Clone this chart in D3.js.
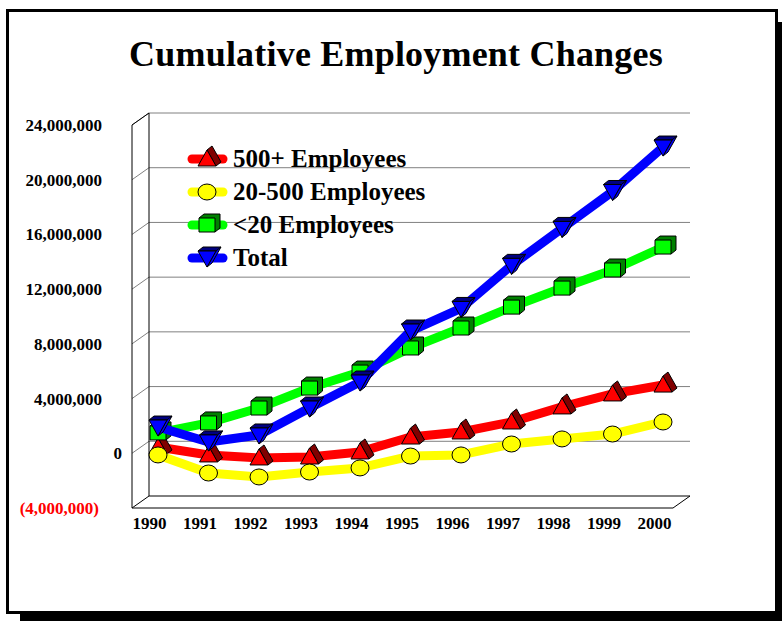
<!DOCTYPE html>
<html>
<head>
  <title>Cumulative Employment Changes</title>
  <script src="https://d3js.org/d3.v7.min.js"></script>
  <style>
    body { margin: 0; background: #fff; }
    text { font-family: "Liberation Serif", "Times New Roman", serif; font-weight: bold; }
  </style>
</head>
<body>
  <div id="chart"></div>

  <script>
    var years = ["1990", "1991", "1992", "1993", "1994", "1995", "1996", "1997", "1998", "1999", "2000"];
    var seriesNames = ["500+ Employees", "20-500 Employees", "<20 Employees", "Total"];
    var large = [20000, -560000, -780000, -710000, -340000, 750000, 1120000, 1850000, 2950000, 3900000, 4550000];
    var medium = [-560000, -1880000, -2170000, -1810000, -1510000, -640000, -560000, 240000, 610000, 970000, 1850000];
    var small = [1050000, 1780000, 2870000, 4330000, 5500000, 7260000, 8720000, 10250000, 11640000, 12960000, 14640000];
    var total = [1480000, 390000, 900000, 2870000, 4770000, 8500000, 10150000, 13300000, 16000000, 18700000, 21950000];
    var yTicks = [-4000000, 0, 4000000, 8000000, 12000000, 16000000, 20000000, 24000000];

    var series = [
      { name: seriesNames[0], values: large, color: "#ff0000", dark: "#800000", shape: "up" },
      { name: seriesNames[1], values: medium, color: "#ffff00", dark: "#808000", shape: "circle" },
      { name: seriesNames[2], values: small, color: "#00ff00", dark: "#008000", shape: "square" },
      { name: seriesNames[3], values: total, color: "#0000ff", dark: "#000080", shape: "down" }
    ];

    var width = 782, height = 621;
    var depthX = 17, depthY = -12; // 3d wall depth

    var svg = d3.select("#chart").append("svg")
      .attr("width", width)
      .attr("height", height);

    // frame with shadow
    svg.append("rect").attr("x", 20).attr("y", 22).attr("width", 763).attr("height", 599).attr("fill", "#000");
    svg.append("rect").attr("x", 7.5).attr("y", 10.5).attr("width", 769).attr("height", 602)
      .attr("fill", "#fff").attr("stroke", "#000").attr("stroke-width", 3);

    svg.append("text")
      .attr("x", 396).attr("y", 66)
      .attr("text-anchor", "middle")
      .style("font-size", "36px")
      .style("letter-spacing", "0.2px")
      .text("Cumulative Employment Changes");

    var x = d3.scalePoint().domain(years).range([149.5, 654.5]);
    var y = d3.scaleLinear().domain([-4000000, 24000000]).range([508, 125]);

    var boxLeft = x(years[0]) - 17.5, boxRight = x(years[years.length - 1]) + 18.5;
    var boxTop = y(24000000), boxBottom = y(-4000000);

    var grid = svg.append("g");
    // gridlines on back wall and left wall
    yTicks.slice(1).forEach(function(t) {
      grid.append("line")
        .attr("x1", boxLeft + depthX).attr("x2", boxRight + depthX)
        .attr("y1", y(t) + depthY).attr("y2", y(t) + depthY)
        .attr("stroke", "#808080");
      grid.append("line")
        .attr("x1", boxLeft).attr("x2", boxLeft + depthX)
        .attr("y1", y(t)).attr("y2", y(t) + depthY)
        .attr("stroke", "#808080");
    });

    var box = svg.append("g").attr("stroke", "#000").attr("fill", "none");
    box.append("path").attr("d",
      "M" + boxLeft + "," + boxTop + "V" + boxBottom + "H" + boxRight +
      "L" + (boxRight + depthX) + "," + (boxBottom + depthY) +
      "H" + (boxLeft + depthX) + "L" + boxLeft + "," + boxBottom);
    box.append("path").attr("d",
      "M" + boxLeft + "," + boxTop + "L" + (boxLeft + depthX) + "," + (boxTop + depthY) +
      "V" + (boxBottom + depthY));

    // y labels
    svg.append("g").selectAll("text")
      .data(yTicks)
      .enter().append("text")
      .attr("x", function(d) { return d === 0 ? 122 : (d < 0 ? 99 : 102); })
      .attr("y", function(d) { return y(d) + 6; })
      .attr("text-anchor", "end")
      .style("font-size", "17px")
      .attr("fill", function(d) { return d < 0 ? "#ff0000" : "#000"; })
      .text(function(d) {
        var s = d3.format(",")(Math.abs(d));
        return d < 0 ? "(" + s + ")" : s;
      });

    // x labels
    svg.append("g").selectAll("text")
      .data(years)
      .enter().append("text")
      .attr("x", function(d) { return x(d); })
      .attr("y", 529)
      .attr("text-anchor", "middle")
      .style("font-size", "17px")
      .text(function(d) { return d; });

    function drawMarker(g, shape, cx, cy, color, dark) {
      var m = g.append("g").attr("stroke", "#000").attr("stroke-width", 1).attr("stroke-linejoin", "round");
      if (shape === "up") {
        m.append("path").attr("fill", dark).attr("d",
          "M" + (cx + 9) + "," + (cy + 7) + "L" + (cx + 14) + "," + (cy + 3) +
          "L" + (cx + 5) + "," + (cy - 13) + "L" + cx + "," + (cy - 9) + "Z");
        m.append("path").attr("fill", color).attr("d",
          "M" + (cx - 9) + "," + (cy + 7) + "L" + (cx + 9) + "," + (cy + 7) + "L" + cx + "," + (cy - 9) + "Z");
      } else if (shape === "down") {
        m.append("path").attr("fill", dark).attr("d",
          "M" + (cx - 9) + "," + (cy - 7) + "L" + (cx - 4) + "," + (cy - 11) +
          "L" + (cx + 14) + "," + (cy - 11) + "L" + (cx + 9) + "," + (cy - 7) + "Z");
        m.append("path").attr("fill", color).attr("d",
          "M" + (cx + 9) + "," + (cy - 7) + "L" + (cx + 14) + "," + (cy - 11) +
          "L" + (cx + 5) + "," + (cy + 5) + "L" + cx + "," + (cy + 9) + "Z");
        m.append("path").attr("fill", color).attr("d",
          "M" + (cx - 9) + "," + (cy - 7) + "L" + (cx + 9) + "," + (cy - 7) + "L" + cx + "," + (cy + 9) + "Z");
      } else if (shape === "square") {
        m.append("path").attr("fill", dark).attr("d",
          "M" + (cx - 8) + "," + (cy - 7) + "L" + (cx - 3) + "," + (cy - 11) +
          "H" + (cx + 13) + "V" + (cy + 3) + "L" + (cx + 8) + "," + (cy + 7) + "Z");
        m.append("rect").attr("fill", color)
          .attr("x", cx - 8).attr("y", cy - 7).attr("width", 16).attr("height", 14);
      } else {
        m.append("ellipse").attr("fill", color)
          .attr("cx", cx).attr("cy", cy).attr("rx", 9).attr("ry", 8);
      }
    }

    var line = d3.line()
      .x(function(d, i) { return x(years[i]) + depthX / 2; })
      .y(function(d) { return y(d) + depthY / 2; });

    series.forEach(function(s) {
      var g = svg.append("g");
      g.append("path")
        .datum(s.values)
        .attr("d", line)
        .attr("fill", "none")
        .attr("stroke", s.color)
        .attr("stroke-width", 9)
        .attr("stroke-linejoin", "round");
      s.values.forEach(function(v, i) {
        drawMarker(g, s.shape, x(years[i]) + depthX / 2, y(v) + depthY / 2, s.color, s.dark);
      });
    });

    // legend
    var legend = svg.append("g");
    series.forEach(function(s, i) {
      var ly = 159 + i * 33;
      legend.append("line")
        .attr("x1", 192).attr("x2", 223)
        .attr("y1", ly).attr("y2", ly)
        .attr("stroke", s.color).attr("stroke-width", 9).attr("stroke-linecap", "round");
      drawMarker(legend, s.shape, 207, ly, s.color, s.dark);
      legend.append("text")
        .attr("x", 233).attr("y", ly + 8)
        .style("font-size", "25px")
        .text(s.name);
    });
  </script>
</body>
</html>
